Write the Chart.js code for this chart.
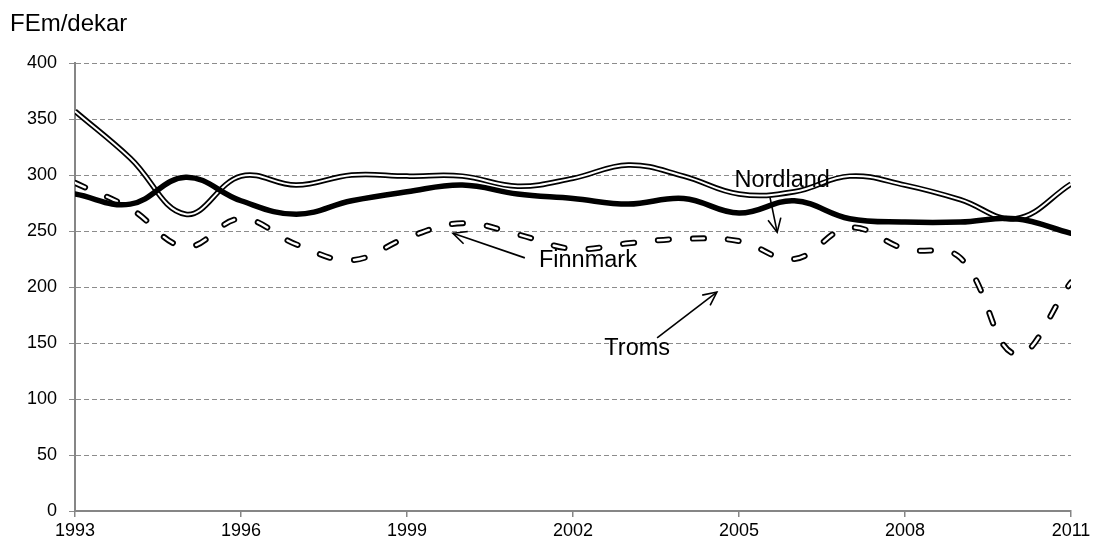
<!DOCTYPE html>
<html>
<head>
<meta charset="utf-8">
<script src="https://cdn.jsdelivr.net/npm/chart.js@4/dist/chart.umd.min.js"></script>
<style>
html,body{margin:0;padding:0;background:#fff;}
#wrap{width:1094px;height:544px;position:relative;}
</style>
</head>
<body>
<div id="wrap"><canvas id="c" width="1094" height="544"></canvas></div>
<script>
// ---- data ----
const years = [1993,1994,1995,1996,1997,1998,1999,2000,2001,2002,2003,2004,2005,2006,2007,2008,2009,2010,2011];
const nordland = [357,315,265,299,291,300,299,299,290,297,309,299,283,285,299,291,278,261,292];
const troms    = [283,274,298,277,265,277,285,291,283,279,274,279,266,277,261,258,258,261,248];
const finnmark = [293,270,236,261,238,224,244,257,247,234,239,243,241,225,253,234,226,140,204];
const yTicks = [0,50,100,150,200,250,300,350,400];
const xTicks = [1993,1996,1999,2002,2005,2008,2011];
const yUnit = 'FEm/dekar';

// annotation labels with arrows (value coordinates)
const labelNames = ['Nordland','Finnmark','Troms'];
const labelPos   = [[2005.78,289],[2002.27,218],[2003.16,139]];
const arrowFrom  = [[2005.56,280],[2001.13,226],[2003.52,154.5]];
const arrowTo    = [[2005.69,249],[1999.83,248],[2004.60,195.5]];

const pts = arr => arr.map((v,i)=>({x:years[i], y:v}));
const FONT = "'Liberation Sans', Arial, sans-serif";

const annotPlugin = {
  id:'annot',
  afterDatasetsDraw(chart){
    const {ctx, scales:{x,y}} = chart;
    ctx.save();
    ctx.fillStyle='#000';
    ctx.strokeStyle='#000';
    ctx.lineWidth=1.6;
    ctx.font = "23.5px " + FONT;
    ctx.textAlign='center';
    ctx.textBaseline='alphabetic';
    for(let i=0;i<labelNames.length;i++){
      ctx.fillText(labelNames[i], x.getPixelForValue(labelPos[i][0]), y.getPixelForValue(labelPos[i][1]));
      const x1=x.getPixelForValue(arrowFrom[i][0]), y1=y.getPixelForValue(arrowFrom[i][1]);
      const x2=x.getPixelForValue(arrowTo[i][0]), y2=y.getPixelForValue(arrowTo[i][1]);
      ctx.beginPath(); ctx.moveTo(x1,y1); ctx.lineTo(x2,y2); ctx.stroke();
      const a=Math.atan2(y2-y1,x2-x1), L=15, w=0.45;
      ctx.beginPath();
      ctx.moveTo(x2-L*Math.cos(a-w), y2-L*Math.sin(a-w));
      ctx.lineTo(x2,y2);
      ctx.lineTo(x2-L*Math.cos(a+w), y2-L*Math.sin(a+w));
      ctx.stroke();
    }
    ctx.restore();
  },
  afterDraw(chart){
    const ctx=chart.ctx;
    ctx.save();
    ctx.fillStyle='#000';
    ctx.font="24px " + FONT;
    ctx.textAlign='left';
    ctx.textBaseline='alphabetic';
    ctx.fillText(yUnit, 10, 31);
    ctx.restore();
  }
};

const TENSION = 0.4;
new Chart(document.getElementById('c'), {
  type:'line',
  data:{
    datasets:[
      {label:'Troms', data:pts(troms), borderColor:'#000', borderWidth:5.5, tension:TENSION, pointRadius:0, order:1, borderCapStyle:'round', borderJoinStyle:'round'},
      {label:'Nordland', data:pts(nordland), borderColor:'#fff', borderWidth:2, tension:TENSION, pointRadius:0, order:2, borderJoinStyle:'round'},
      {label:'Nordland', data:pts(nordland), borderColor:'#000', borderWidth:5.5, tension:TENSION, pointRadius:0, order:3, borderJoinStyle:'round'},
      {label:'Finnmark', data:pts(finnmark), borderColor:'#fff', borderWidth:2.4, borderDash:[11,24], borderCapStyle:'round', tension:TENSION, pointRadius:0, order:4},
      {label:'Finnmark', data:pts(finnmark), borderColor:'#000', borderWidth:6, borderDash:[11,24], borderCapStyle:'round', tension:TENSION, pointRadius:0, order:5}
    ]
  },
  options:{
    responsive:false,
    animation:false,
    devicePixelRatio:1,
    layout:{padding:{left:0,top:63,right:23,bottom:0}},
    plugins:{legend:{display:false}, tooltip:{enabled:false}, title:{display:false}},
    scales:{
      x:{
        type:'linear', min:xTicks[0], max:xTicks[xTicks.length-1],
        afterBuildTicks: s => { s.ticks = xTicks.map(v=>({value:v})); },
        afterFit: s => { s.height = 33; },
        grid:{display:true, drawOnChartArea:false, drawTicks:true, tickLength:6, color:'#868686', lineWidth:1.5},
        border:{display:true, color:'#868686', width:2},
        ticks:{color:'#000', font:{family:FONT, size:18}, padding:3, maxRotation:0, autoSkip:false,
               callback: v => String(v)}
      },
      y:{
        type:'linear', min:yTicks[0], max:yTicks[yTicks.length-1],
        afterBuildTicks: s => { s.ticks = yTicks.map(v=>({value:v})); },
        afterFit: s => { s.width = 75; },
        grid:{display:true, drawOnChartArea:true, drawTicks:true, tickLength:6, color:'#8c8c8c', lineWidth:1},
        border:{display:true, color:'#868686', width:2, dash:[5,3]},
        ticks:{color:'#000', font:{family:FONT, size:18}, padding:12, callback: v => String(v)}
      }
    }
  },
  plugins:[annotPlugin]
});
</script>
</body>
</html>
